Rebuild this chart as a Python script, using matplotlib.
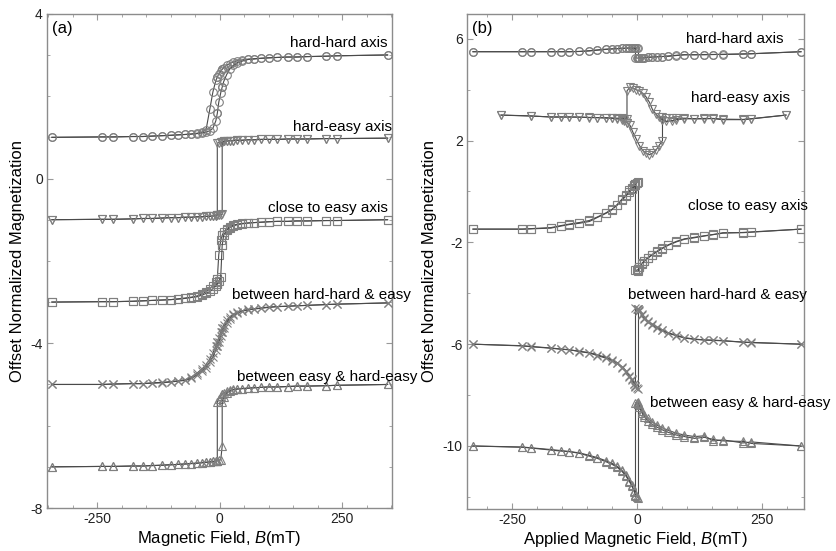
import matplotlib
matplotlib.use("Agg")
import matplotlib.pyplot as plt
from matplotlib.ticker import MultipleLocator

plt.rcParams["font.family"] = ["Liberation Sans", "DejaVu Sans"]
plt.rcParams["mathtext.fontset"] = "custom"
plt.rcParams["mathtext.rm"] = "Liberation Sans"
plt.rcParams["mathtext.it"] = "Liberation Sans:italic"
plt.rcParams["axes.unicode_minus"] = False

# ---- panel (a): field grid (mT), duplicates mark the switching jumps
field_a = [-343, -240, -218, -178, -157, -139, -118, -100, -85, -70, -58, -46, -36, -28,
           -20, -14, -8, -5, -5, -2, 2, 5, 5, 8, 14, 20, 28, 36, 46, 58, 70, 85, 100,
           118, 139, 157, 178, 218, 240, 343]

a_hh_down = [1.00, 1.01, 1.01, 1.02, 1.02, 1.03, 1.04, 1.05, 1.06, 1.07,
             1.08, 1.10, 1.13, 1.18, 1.70, 2.10, 2.38, 2.46, 2.46, 2.54,
             2.61, 2.65, 2.65, 2.69, 2.75, 2.79, 2.83, 2.86, 2.88, 2.90,
             2.91, 2.92, 2.93, 2.94, 2.95, 2.95, 2.96, 2.97, 2.98, 3.00]
a_hh_up = [1.00, 1.01, 1.01, 1.02, 1.02, 1.03, 1.04, 1.05, 1.06, 1.07,
           1.08, 1.09, 1.11, 1.13, 1.16, 1.22, 1.40, 1.58, 1.58, 1.85,
           2.08, 2.22, 2.22, 2.35, 2.52, 2.65, 2.75, 2.81, 2.85, 2.89,
           2.90, 2.92, 2.93, 2.94, 2.95, 2.95, 2.96, 2.97, 2.98, 3.00]

a_he_down = [-1.00, -0.99, -0.99, -0.98, -0.97, -0.97, -0.96, -0.95, -0.95, -0.94,
             -0.94, -0.93, -0.93, -0.92, -0.92, -0.91, -0.90, -0.89, 0.86, 0.87,
             0.88, 0.89, 0.89, 0.90, 0.91, 0.92, 0.92, 0.93, 0.93, 0.94,
             0.94, 0.95, 0.95, 0.95, 0.96, 0.96, 0.96, 0.97, 0.97, 0.98]
a_he_up = [-1.00, -0.99, -0.99, -0.98, -0.97, -0.97, -0.96, -0.95, -0.95, -0.94,
           -0.94, -0.93, -0.93, -0.92, -0.92, -0.91, -0.90, -0.89, -0.89, -0.88,
           -0.88, -0.87, 0.88, 0.90, 0.91, 0.92, 0.92, 0.93, 0.93, 0.94,
           0.94, 0.95, 0.95, 0.95, 0.96, 0.96, 0.96, 0.97, 0.97, 0.98]

a_ce_down = [-3.00, -2.99, -2.99, -2.98, -2.97, -2.96, -2.95, -2.94, -2.92, -2.90,
             -2.88, -2.85, -2.80, -2.75, -2.68, -2.60, -2.52, -2.45, -2.45, -1.85,
             -1.50, -1.38, -1.38, -1.30, -1.22, -1.17, -1.13, -1.11, -1.09, -1.08,
             -1.07, -1.06, -1.05, -1.04, -1.04, -1.03, -1.03, -1.02, -1.02, -1.00]
a_ce_up = [-3.00, -2.99, -2.99, -2.98, -2.97, -2.96, -2.95, -2.94, -2.93, -2.91,
           -2.89, -2.87, -2.83, -2.79, -2.74, -2.68, -2.60, -2.55, -2.55, -2.50,
           -2.40, -1.62, -1.62, -1.38, -1.26, -1.19, -1.15, -1.12, -1.10, -1.08,
           -1.07, -1.06, -1.05, -1.04, -1.04, -1.03, -1.03, -1.02, -1.02, -1.00]

a_hhe_down = [-5.00, -5.00, -4.99, -4.98, -4.98, -4.96, -4.95, -4.93, -4.91, -4.88,
              -4.82, -4.72, -4.62, -4.52, -4.38, -4.24, -4.06, -3.96, -3.96, -3.86,
              -3.72, -3.64, -3.64, -3.56, -3.44, -3.36, -3.29, -3.25, -3.21, -3.18,
              -3.16, -3.14, -3.12, -3.11, -3.10, -3.09, -3.08, -3.06, -3.05, -3.02]
a_hhe_up = [-5.00, -5.00, -4.99, -4.98, -4.98, -4.97, -4.96, -4.94, -4.92, -4.90,
            -4.85, -4.77, -4.68, -4.59, -4.46, -4.33, -4.16, -4.06, -4.06, -3.96,
            -3.82, -3.72, -3.72, -3.63, -3.50, -3.40, -3.32, -3.27, -3.22, -3.19,
            -3.17, -3.15, -3.13, -3.11, -3.10, -3.09, -3.08, -3.06, -3.05, -3.02]

a_ehe_down = [-7.00, -6.99, -6.99, -6.98, -6.98, -6.97, -6.96, -6.95, -6.94, -6.93,
              -6.92, -6.91, -6.90, -6.89, -6.88, -6.87, -6.86, -6.85, -5.42, -5.35,
              -5.28, -5.24, -5.24, -5.20, -5.16, -5.14, -5.12, -5.11, -5.10, -5.09,
              -5.08, -5.07, -5.06, -5.06, -5.05, -5.04, -5.04, -5.03, -5.02, -5.00]
a_ehe_up = [-7.00, -6.99, -6.99, -6.98, -6.98, -6.97, -6.96, -6.95, -6.94, -6.93,
            -6.92, -6.91, -6.90, -6.89, -6.88, -6.87, -6.86, -6.85, -6.85, -6.84,
            -6.83, -6.50, -5.42, -5.30, -5.20, -5.16, -5.13, -5.11, -5.10, -5.09,
            -5.08, -5.07, -5.06, -5.06, -5.05, -5.04, -5.04, -5.03, -5.02, -5.00]

# ---- panel (b)
field_b = [-328, -229, -212, -172, -152, -135, -115, -95, -79, -62, -50, -40, -30, -22,
           -15, -10, -5, -3, -3, 0, 3, 3, 5, 10, 15, 22, 30, 40, 50, 62, 79, 95, 115,
           135, 152, 172, 212, 229, 328]
field_b_he = [-272, -212, -172, -152, -135, -115, -95, -79, -62, -50, -40, -30, -25, -20,
              -20, -14, -8, -2, 5, 12, 18, 25, 31, 38, 44, 51, 51, 59, 70, 79, 95, 115,
              135, 152, 172, 212, 229, 298]

b_hh_down = [5.49, 5.49, 5.49, 5.49, 5.49, 5.49, 5.50, 5.53, 5.56, 5.59,
             5.60, 5.61, 5.62, 5.63, 5.64, 5.64, 5.64, 5.64, 5.64, 5.64,
             5.63, 5.26, 5.25, 5.25, 5.26, 5.27, 5.28, 5.29, 5.30, 5.31,
             5.34, 5.37, 5.37, 5.37, 5.38, 5.38, 5.40, 5.41, 5.49]
b_hh_up = [5.49, 5.49, 5.49, 5.49, 5.49, 5.49, 5.50, 5.52, 5.55, 5.58,
           5.60, 5.61, 5.62, 5.63, 5.63, 5.63, 5.62, 5.62, 5.25, 5.24,
           5.24, 5.24, 5.24, 5.25, 5.26, 5.27, 5.28, 5.29, 5.30, 5.32,
           5.35, 5.37, 5.37, 5.38, 5.38, 5.39, 5.40, 5.41, 5.49]

b_he_down = [3.00, 2.97, 2.92, 2.92, 2.93, 2.92, 2.90, 2.90, 2.88, 2.87,
             2.85, 2.82, 2.78, 2.70, 2.70, 2.60, 2.32, 2.08, 1.80, 1.60,
             1.50, 1.44, 1.50, 1.62, 1.80, 2.00, 2.92, 2.90, 2.88, 2.87,
             2.88, 2.85, 2.87, 2.86, 2.82, 2.82, 2.85, 3.00]
b_he_up = [3.00, 2.96, 2.93, 2.93, 2.92, 2.92, 2.91, 2.90, 2.90, 2.89,
           2.88, 2.87, 2.86, 2.86, 3.95, 4.10, 4.06, 4.00, 3.95, 3.85,
           3.72, 3.50, 3.22, 3.04, 2.92, 2.82, 2.82, 2.75, 2.78, 2.82,
           2.85, 2.86, 2.85, 2.87, 2.84, 2.83, 2.86, 3.00]

b_ce_down = [-1.48, -1.48, -1.47, -1.44, -1.36, -1.30, -1.25, -1.18, -1.02, -0.86,
             -0.72, -0.52, -0.30, -0.14, 0.04, 0.14, 0.25, 0.29, 0.29, 0.35,
             0.39, -3.12, -2.98, -2.84, -2.74, -2.62, -2.50, -2.37, -2.25, -2.12,
             -1.98, -1.88, -1.82, -1.75, -1.70, -1.62, -1.62, -1.60, -1.48]
b_ce_up = [-1.48, -1.48, -1.46, -1.42, -1.34, -1.28, -1.22, -1.14, -1.00, -0.84,
           -0.70, -0.55, -0.34, -0.18, -0.02, 0.10, 0.20, 0.26, -3.08, -3.10,
           -3.05, -3.05, -2.95, -2.82, -2.72, -2.60, -2.48, -2.35, -2.23, -2.10,
           -1.96, -1.86, -1.80, -1.74, -1.69, -1.64, -1.61, -1.59, -1.48]

b_hhe_down = [-6.00, -6.07, -6.10, -6.16, -6.20, -6.22, -6.29, -6.35, -6.45, -6.55,
              -6.65, -6.75, -6.92, -7.08, -7.28, -7.42, -7.58, -7.66, -7.66, -7.72,
              -7.75, -4.60, -4.66, -4.82, -4.96, -5.10, -5.20, -5.32, -5.43, -5.55,
              -5.65, -5.74, -5.80, -5.83, -5.84, -5.86, -5.92, -5.93, -6.00]
b_hhe_up = [-6.00, -6.06, -6.09, -6.15, -6.19, -6.22, -6.28, -6.33, -6.42, -6.52,
            -6.62, -6.72, -6.88, -7.04, -7.24, -7.38, -7.55, -7.70, -4.58, -4.60,
            -4.63, -4.63, -4.68, -4.85, -5.00, -5.14, -5.24, -5.36, -5.46, -5.57,
            -5.67, -5.76, -5.81, -5.84, -5.85, -5.87, -5.92, -5.94, -6.00]

b_ehe_down = [-10.00, -10.05, -10.08, -10.16, -10.20, -10.22, -10.29, -10.40, -10.49, -10.62,
              -10.72, -10.83, -11.00, -11.18, -11.40, -11.58, -11.80, -11.92, -11.92, -12.00,
              -12.05, -8.26, -8.38, -8.62, -8.78, -8.90, -9.05, -9.18, -9.28, -9.38,
              -9.50, -9.57, -9.63, -9.60, -9.80, -9.76, -9.88, -9.84, -10.00]
b_ehe_up = [-10.00, -10.04, -10.07, -10.14, -10.18, -10.22, -10.27, -10.37, -10.46, -10.58,
            -10.68, -10.80, -10.96, -11.14, -11.36, -11.55, -11.78, -11.96, -8.30, -8.32,
            -8.36, -8.36, -8.45, -8.70, -8.86, -9.00, -9.14, -9.26, -9.36, -9.46,
            -9.57, -9.63, -9.70, -9.66, -9.74, -9.80, -9.82, -9.90, -10.00]

labels = ["hard-hard axis", "hard-easy axis", "close to easy axis",
          "between hard-hard & easy", "between easy & hard-easy"]
markers = ["o", "v", "s", "x", "^"]

LINE = "#4a4a4a"
MARK = "#808080"


def draw_loop(ax, x, down, up, marker):
    for y in (down, up):
        ax.plot(x, y, color=LINE, lw=0.8, marker=marker, ms=5.5,
                mfc="none", mec=MARK, mew=0.8, zorder=3)


def style_axes(ax, ylim, ymajor, yminor, xlim):
    ax.set_xlim(*xlim)
    ax.set_ylim(*ylim)
    ax.set_xticks([-250, 0, 250])
    ax.xaxis.set_minor_locator(MultipleLocator(50))
    ax.yaxis.set_major_locator(MultipleLocator(ymajor))
    ax.yaxis.set_minor_locator(MultipleLocator(yminor))
    ax.tick_params(which="both", direction="in", top=True, right=True,
                   color="#999999", labelsize=10, labelcolor="#222222", pad=3)
    ax.tick_params(which="major", length=4)
    ax.tick_params(which="minor", length=2.5)
    for s in ax.spines.values():
        s.set_color("#8c8c8c")
        s.set_linewidth(1.0)


fig = plt.figure(figsize=(8.36, 5.51), dpi=100)
ax_a = fig.add_axes([0.0562, 0.078, 0.4127, 0.897])
ax_b = fig.add_axes([0.5586, 0.076, 0.4031, 0.899])

# (a)
draw_loop(ax_a, field_a, a_hh_down, a_hh_up, markers[0])
draw_loop(ax_a, field_a, a_he_down, a_he_up, markers[1])
draw_loop(ax_a, field_a, a_ce_down, a_ce_up, markers[2])
draw_loop(ax_a, field_a, a_hhe_down, a_hhe_up, markers[3])
draw_loop(ax_a, field_a, a_ehe_down, a_ehe_up, markers[4])
style_axes(ax_a, (-8, 4), 4, 1, (-353, 352))
ax_a.set_xlabel("Magnetic Field, $B$(mT)", fontsize=12, labelpad=2)
ax_a.set_ylabel("Offset Normalized Magnetization", fontsize=12, labelpad=4)
ax_a.text(0.015, 0.985, "(a)", transform=ax_a.transAxes, fontsize=12, va="top")
fs = 11
ax_a.text(343, 3.30, labels[0], ha="right", va="center", fontsize=fs)
ax_a.text(352, 1.26, labels[1], ha="right", va="center", fontsize=fs)
ax_a.text(343, -0.71, labels[2], ha="right", va="center", fontsize=fs)
ax_a.text(26, -2.83, labels[3], ha="left", va="center", fontsize=fs)
ax_a.text(35, -4.81, labels[4], ha="left", va="center", fontsize=fs)

# (b)
draw_loop(ax_b, field_b, b_hh_down, b_hh_up, markers[0])
draw_loop(ax_b, field_b_he, b_he_down, b_he_up, markers[1])
draw_loop(ax_b, field_b, b_ce_down, b_ce_up, markers[2])
draw_loop(ax_b, field_b, b_hhe_down, b_hhe_up, markers[3])
draw_loop(ax_b, field_b, b_ehe_down, b_ehe_up, markers[4])
style_axes(ax_b, (-12.48, 6.98), 4, 2, (-340, 334))
ax_b.set_yticks([6, 2, -2, -6, -10])
ax_b.set_xlabel("Applied Magnetic Field, $B$(mT)", fontsize=12, labelpad=2)
ax_b.set_ylabel("Offset Normalized Magnetization", fontsize=12, labelpad=4)
ax_b.text(0.015, 0.985, "(b)", transform=ax_b.transAxes, fontsize=12, va="top")
ax_b.text(98, 6.0, labels[0], ha="left", va="center", fontsize=fs)
ax_b.text(108, 3.67, labels[1], ha="left", va="center", fontsize=fs)
ax_b.text(102, -0.59, labels[2], ha="left", va="center", fontsize=fs)
ax_b.text(-18, -4.06, labels[3], ha="left", va="center", fontsize=fs)
ax_b.text(26, -8.32, labels[4], ha="left", va="center", fontsize=fs)

fig.savefig("out.png", dpi=100)
